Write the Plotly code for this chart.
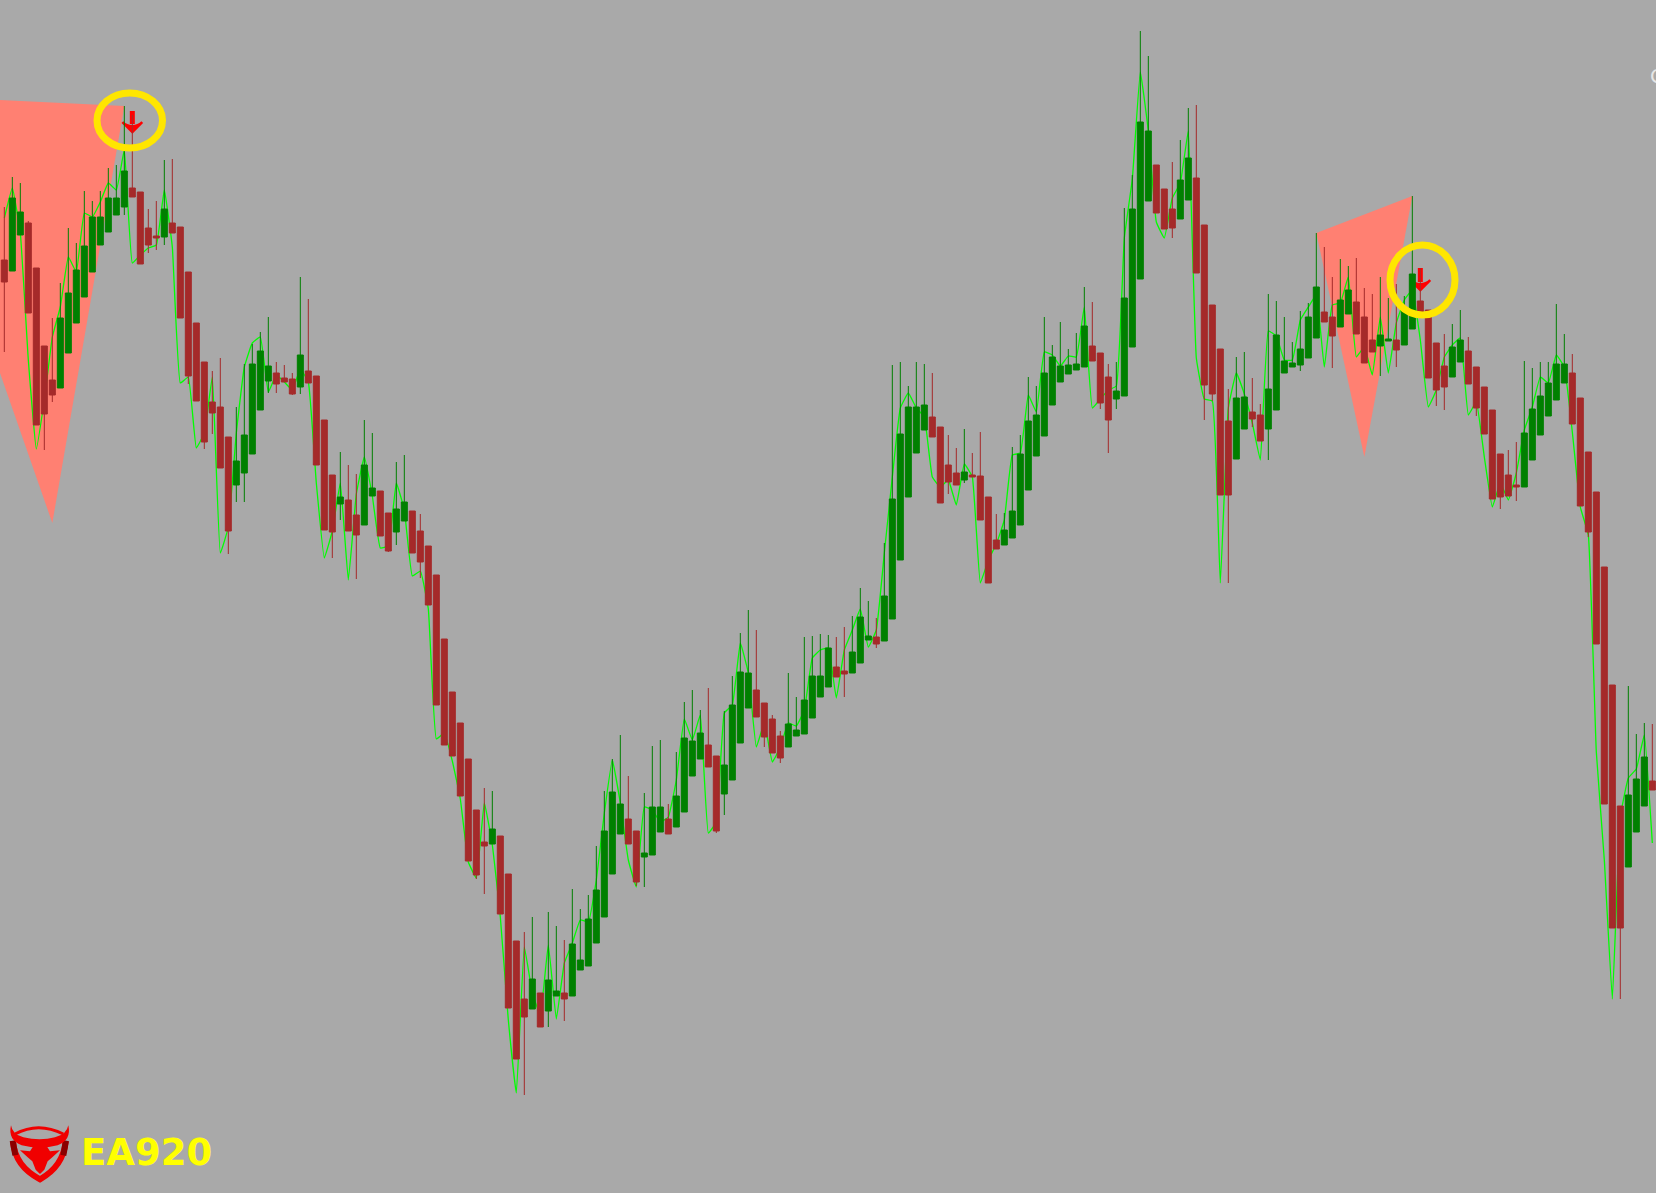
"""Candlestick chart with zigzag line, triangles and sell arrows."""
import plotly.graph_objects as go

WIDTH, HEIGHT = 1656, 1193

# candle colour per bar
colours = (
    "RGGRRRRGGG" "GGGGGGRRRR" "GRRRRRRRRG" "GGGGRRRGRR" "RRGRRGGRRG"
    "GRRRRRRRRR" "RGRRRRGRGG" "RGGGGGGGRR" "GGGRGGGGRR" "GGGGRRRRGG"
    "GGGGRRGGGR" "GGGGGGRRRR" "GRRRRGGGGG" "GGGGGGRRRG" "GGGGRRRGGR"
    "RRRRGGRRGG" "GGGGGRRGGR" "RRGGRGGRRR" "RGGRRRRRRR" "GGGGGGRRRR"
    "RRRGGGR"
)

# levels, counted from the top edge
wick_top = [
    207, 177, 183, 221, 268, 346, 318, 283, 228, 243,
    191, 201, 191, 168, 165, 106, 115, 192, 209, 201,
    160, 159, 227, 272, 323, 362, 371, 358, 437, 407,
    364, 344, 332, 317, 362, 365, 373, 277, 299, 376,
    420, 475, 452, 465, 474, 420, 433, 491, 513, 462,
    455, 511, 514, 546, 575, 639, 692, 723, 759, 810,
    788, 791, 836, 874, 941, 932, 917, 993, 912, 926,
    940, 889, 909, 895, 846, 791, 759, 735, 776, 831,
    793, 746, 740, 804, 752, 702, 690, 710, 688, 756,
    711, 676, 633, 610, 630, 703, 715, 731, 673, 697,
    637, 636, 634, 635, 637, 627, 616, 588, 601, 618,
    543, 365, 362, 386, 362, 364, 373, 427, 435, 448,
    429, 453, 432, 497, 514, 513, 447, 435, 377, 386,
    317, 345, 322, 349, 333, 287, 302, 353, 364, 362,
    208, 175, 31, 56, 165, 189, 162, 140, 108, 105,
    225, 305, 349, 389, 357, 352, 378, 404, 294, 301,
    317, 342, 311, 303, 233, 247, 277, 259, 266, 258,
    288, 294, 277, 298, 284, 296, 196, 268, 310, 343,
    334, 324, 310, 337, 367, 387, 410, 454, 450, 442,
    361, 368, 362, 362, 304, 334, 354, 398, 452, 492,
    567, 685, 806, 686, 734, 723, 724,
]
body_top = [
    260, 198, 212, 223, 268, 346, 380, 318, 293, 270,
    246, 217, 217, 198, 198, 171, 188, 192, 228, 236,
    209, 223, 227, 272, 323, 362, 402, 407, 437, 461,
    435, 364, 351, 366, 373, 378, 379, 355, 371, 376,
    420, 475, 497, 500, 515, 465, 488, 491, 513, 509,
    502, 511, 531, 546, 575, 639, 692, 723, 759, 810,
    842, 829, 836, 874, 941, 999, 979, 993, 980, 991,
    993, 944, 960, 919, 890, 831, 792, 804, 819, 831,
    853, 807, 807, 819, 796, 738, 741, 733, 745, 756,
    765, 705, 672, 673, 690, 703, 719, 736, 724, 730,
    700, 676, 676, 648, 667, 671, 652, 617, 636, 637,
    596, 499, 434, 407, 407, 405, 417, 427, 465, 473,
    472, 475, 476, 497, 540, 530, 511, 454, 421, 415,
    373, 357, 366, 365, 364, 326, 346, 353, 377, 391,
    298, 209, 122, 131, 165, 189, 209, 180, 158, 178,
    225, 305, 349, 421, 398, 397, 412, 415, 389, 335,
    361, 363, 349, 317, 287, 312, 317, 300, 290, 302,
    317, 340, 335, 339, 340, 310, 274, 301, 310, 343,
    366, 347, 340, 351, 367, 387, 410, 454, 475, 485,
    433, 409, 396, 383, 364, 364, 373, 398, 452, 492,
    567, 685, 806, 795, 779, 757, 781,
]
body_bot = [
    282, 271, 235, 313, 425, 414, 395, 388, 353, 323,
    297, 272, 245, 232, 215, 207, 197, 264, 245, 238,
    237, 233, 318, 376, 401, 442, 413, 468, 531, 485,
    473, 454, 410, 381, 384, 382, 394, 387, 383, 465,
    530, 532, 504, 531, 535, 525, 496, 536, 551, 532,
    521, 553, 562, 605, 705, 745, 756, 796, 861, 875,
    846, 844, 914, 1008, 1059, 1017, 1009, 1027, 1011, 996,
    999, 996, 970, 966, 943, 917, 874, 834, 844, 882,
    857, 855, 832, 834, 827, 812, 776, 759, 767, 831,
    794, 780, 743, 708, 717, 737, 753, 758, 747, 736,
    734, 718, 697, 687, 677, 674, 673, 663, 640, 644,
    641, 619, 560, 497, 453, 430, 437, 503, 482, 485,
    480, 477, 520, 583, 549, 545, 538, 525, 490, 456,
    436, 405, 382, 374, 370, 367, 361, 403, 420, 399,
    396, 347, 279, 201, 213, 229, 228, 219, 200, 273,
    385, 394, 495, 495, 459, 429, 419, 441, 429, 410,
    373, 367, 365, 358, 338, 322, 336, 327, 314, 334,
    363, 352, 346, 341, 350, 345, 329, 312, 378, 390,
    387, 377, 362, 384, 408, 434, 499, 497, 496, 487,
    487, 460, 435, 416, 400, 383, 424, 506, 532, 644,
    804, 928, 928, 867, 832, 806, 790,
]
wick_bot = [
    352, 271, 235, 313, 425, 450, 402, 388, 353, 323,
    297, 272, 245, 232, 215, 215, 197, 264, 253, 250,
    245, 233, 318, 384, 401, 449, 434, 468, 554, 502,
    502, 454, 410, 393, 393, 382, 395, 394, 383, 465,
    530, 558, 520, 531, 579, 525, 496, 536, 552, 545,
    521, 553, 578, 605, 705, 745, 756, 796, 861, 879,
    894, 844, 914, 1008, 1059, 1095, 1009, 1027, 1027, 996,
    1021, 996, 970, 966, 943, 917, 874, 834, 844, 886,
    887, 855, 832, 834, 827, 812, 776, 759, 767, 833,
    815, 780, 743, 708, 717, 747, 753, 763, 747, 736,
    734, 718, 697, 687, 677, 697, 673, 663, 640, 648,
    641, 619, 560, 497, 453, 430, 437, 503, 494, 485,
    483, 477, 520, 583, 549, 545, 538, 525, 490, 456,
    436, 405, 382, 374, 370, 367, 361, 409, 453, 409,
    396, 347, 279, 201, 213, 229, 238, 219, 200, 273,
    420, 401, 495, 583, 459, 429, 427, 441, 460, 410,
    373, 367, 371, 358, 338, 322, 368, 327, 314, 334,
    363, 352, 376, 341, 367, 345, 329, 312, 378, 406,
    410, 377, 362, 384, 416, 434, 499, 509, 496, 501,
    487, 460, 435, 416, 400, 383, 424, 506, 537, 644,
    804, 928, 999, 867, 832, 806, 790,
]
line_level = [
    218, 188, 233, 360, 449, 400, 337, 307, 257, 272,
    213, 217, 202, 183, 190, 150, 263, 255, 248, 245,
    190, 247, 383, 377, 448, 433, 377, 553, 527, 433,
    367, 343, 337, 392, 375, 382, 390, 369, 382, 483,
    558, 531, 483, 580, 494, 457, 496, 548, 546, 483,
    510, 576, 571, 609, 739, 733, 761, 799, 862, 878,
    803, 845, 917, 1020, 1093, 947, 993, 1015, 945, 1019,
    963, 943, 920, 922, 880, 813, 760, 803, 860, 887,
    807, 810, 822, 817, 780, 719, 740, 715, 833, 822,
    713, 705, 643, 673, 747, 723, 762, 747, 723, 726,
    710, 658, 650, 648, 698, 650, 630, 609, 647, 630,
    553, 477, 408, 393, 408, 417, 477, 487, 480, 505,
    464, 477, 583, 560, 544, 520, 455, 453, 395, 412,
    352, 355, 366, 356, 357, 307, 408, 399, 390, 386,
    238, 179, 72, 131, 222, 238, 198, 183, 131, 358,
    399, 401, 583, 408, 373, 394, 423, 460, 331, 336,
    360, 360, 320, 307, 295, 367, 305, 303, 277, 357,
    347, 375, 317, 373, 323, 300, 290, 340, 407, 390,
    357, 345, 338, 415, 402, 457, 507, 483, 500, 473,
    430, 407, 377, 383, 355, 367, 432, 507, 535, 752,
    860, 999, 817, 778, 769, 735, 843,
]

# triangles: bar position and level of each corner
left_tri_x = [-0.54, 15, 6, -0.54]
left_tri_y = [100, 106, 523, 373]
right_tri_x = [164, 176, 170]
right_tri_y = [233, 196, 457]

# sell arrows
arrow_bar = [16, 177]
arrow_tail = [111, 268]
arrow_tip = [132, 290]


def price(level):
    return HEIGHT - level


def px(x):
    return x / WIDTH


def py(y):
    return 1 - y / HEIGHT


def lp(x, y):
    # logo drawing coords -> paper
    return f"{px(5 + x / 3):.5f},{py(1118 + y / 3):.5f}"


bars = list(range(len(colours)))
opens = [price(b if c == "G" else t) for c, t, b in zip(colours, body_top, body_bot)]
closes = [price(t if c == "G" else b) for c, t, b in zip(colours, body_top, body_bot)]
highs = [price(v) for v in wick_top]
lows = [price(v) for v in wick_bot]

fig = go.Figure()
for tx, ty in [(left_tri_x, left_tri_y), (right_tri_x, right_tri_y)]:
    fig.add_trace(go.Scatter(x=tx, y=[price(v) for v in ty], mode="lines", fill="toself",
                             fillcolor="#FF8072", line=dict(width=0), showlegend=False, zorder=0))
fig.add_trace(go.Scatter(x=bars, y=[price(v) for v in line_level], mode="lines",
                         line=dict(color="#00FF00", width=1.3, shape="spline", smoothing=0.3),
                         showlegend=False, zorder=1))
for bar, tail, tip in zip(arrow_bar, arrow_tail, arrow_tip):
    fig.add_trace(go.Scatter(x=[bar, bar], y=[price(tail), price(tip - 8)], mode="lines",
                             line=dict(color="#FF0000", width=5), showlegend=False, zorder=2))
fig.add_trace(go.Scatter(x=arrow_bar, y=[price(v) for v in arrow_tip], mode="markers",
                         marker=dict(symbol="arrow-wide", angle=180, size=14, color="#FF0000",
                                     line=dict(width=2.5, color="#FF0000")),
                         showlegend=False, zorder=2))
fig.add_trace(go.Candlestick(
    x=bars, open=opens, high=highs, low=lows, close=closes, whiskerwidth=0, zorder=3,
    increasing=dict(line=dict(color="#008000", width=1), fillcolor="#008000"),
    decreasing=dict(line=dict(color="#A52A2A", width=1), fillcolor="#A52A2A"),
    showlegend=False,
))

ring = dict(type="circle", xref="paper", yref="paper", layer="above",
            line=dict(color="#FFE600", width=7))
fig.add_shape(x0=px(97), x1=px(162.5), y0=py(93), y1=py(148), **ring)
fig.add_shape(x0=px(1390), x1=px(1455), y0=py(245), y1=py(315), **ring)

# logo
logo = dict(type="path", xref="paper", yref="paper", layer="above")
fig.add_shape(path=f"M{lp(24, 70)} Q{lp(30, 145)} {lp(105, 184)} Q{lp(175, 145)} {lp(182, 70)}",
              line=dict(color="#F00000", width=6), fillcolor="rgba(0,0,0,0)", **logo)
fig.add_shape(path=f"M{lp(23, 68)} L{lp(31, 112)}", line=dict(color="#8B0000", width=6), **logo)
fig.add_shape(path=f"M{lp(183, 68)} L{lp(175, 112)}", line=dict(color="#8B0000", width=6), **logo)
fig.add_shape(path=f"M{lp(30, 48)} Q{lp(100, 10)} {lp(175, 48)}",
              line=dict(color="#F00000", width=3), fillcolor="rgba(0,0,0,0)", **logo)
fig.add_shape(path=f"M{lp(18, 22)} Q{lp(8, 66)} {lp(50, 82)} Q{lp(105, 96)} {lp(158, 82)} "
                   f"Q{lp(200, 66)} {lp(190, 22)} Q{lp(185, 50)} {lp(150, 58)} "
                   f"Q{lp(105, 70)} {lp(55, 58)} Q{lp(22, 50)} {lp(18, 22)} Z",
              line=dict(width=0), fillcolor="#F00000", **logo)
head = [(45, 97), (75, 100), (85, 84), (125, 84), (135, 100), (165, 97), (142, 118), (128, 130),
        (118, 155), (105, 168), (92, 155), (82, 130), (68, 118)]
fig.add_shape(path="M" + " L".join(lp(*p) for p in head) + " Z",
              line=dict(width=0), fillcolor="#F00000", **logo)

fig.add_annotation(x=px(79), y=py(1152), xref="paper", yref="paper", text="<b>EA920</b>",
                   showarrow=False, xanchor="left", yanchor="middle",
                   font=dict(family="DejaVu Sans", size=37, color="#FFFF00"))
fig.add_annotation(x=px(1648), y=py(76), xref="paper", yref="paper", text="C",
                   showarrow=False, xanchor="left", yanchor="middle",
                   font=dict(family="DejaVu Sans", size=20, color="#E6E6E6"))

fig.update_layout(
    width=WIDTH, height=HEIGHT, margin=dict(l=0, r=0, t=0, b=0),
    paper_bgcolor="#A9A9A9", plot_bgcolor="#A9A9A9", showlegend=False,
    boxgap=0.25, boxgroupgap=0,
    xaxis=dict(range=[-0.54, 206.46], visible=False, rangeslider=dict(visible=False)),
    yaxis=dict(range=[0, HEIGHT], visible=False),
)
fig.write_html("out.html", config=dict(displayModeBar=False),
               post_script="document.body.style.margin='0';")
